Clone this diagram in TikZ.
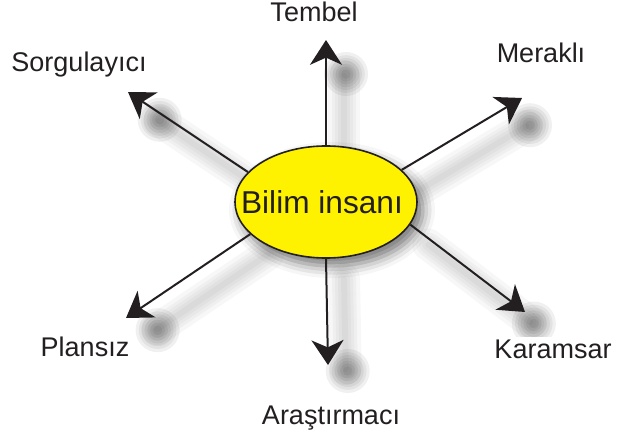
\documentclass[tikz,border=0pt]{standalone}
\usepackage{fontspec}
\setmainfont{Liberation Sans}
\usetikzlibrary{positioning}
\usetikzlibrary{calc}
\usetikzlibrary{arrows.meta}
\usetikzlibrary{shapes.geometric}
\usetikzlibrary{shadows.blur}

\pgfdeclarelayer{background}
\pgfsetlayers{background,main}

\definecolor{ink}{HTML}{231F20}
\definecolor{sunny}{HTML}{FFF200}

\tikzset{
  hub/.style={draw=ink, line width=0.04cm, fill=sunny, ellipse,
    minimum width=4.55cm, minimum height=2.8cm, inner sep=0pt,
    font=\fontsize{22.5}{26}\selectfont, text=ink,
    blur shadow={shadow xshift=0.15cm, shadow yshift=-0.2cm,
      shadow blur radius=0.3cm, shadow opacity=55}},
  trait/.style={font=\fontsize{19.2}{23}\selectfont, text=ink,
    fill=white, inner sep=2pt, anchor=base},
  link/.style={draw=ink, line width=0.05cm,
    -{Stealth[length=0.62cm, width=0.8cm, inset=0.18cm]}},
  ghost/.style={draw=black, line width=#1, opacity=0.03, line cap=round},
}

\begin{document}
\begin{tikzpicture}[x=0.025cm, y=-0.025cm]

\useasboundingbox (0,0) rectangle (624,439);

% centre
\node[hub] (bilim) at (326,202) {\makebox[0pt]{\hspace{-0.2cm}Bilim insanı}};

% arrow ends
\coordinate (tip-tembel) at (326,40);
\coordinate (tip-merak) at (522,98);
\coordinate (tip-karam) at (525,312);
\coordinate (tip-arast) at (328,365);
\coordinate (tip-plan) at (126,318);
\coordinate (tip-sorgu) at (128,92);

% soft shadows under the arrows
\begin{pgfonlayer}{background}
\foreach \ang/\who in {90/tembel, 23/merak, -15/karam, 270/arast, 203/plan, 159/sorgu} {
  \foreach \w in {0.8, 0.6, 0.45, 0.3, 0.15}
    \draw[ghost=\w cm] ($(bilim.\ang)+(18,20)$) -- ($(tip-\who)!0.4cm!(bilim.\ang)+(18,20)$);
  \foreach \r in {0.55, 0.47, 0.4, 0.33, 0.26, 0.19, 0.12}
    \fill[black, opacity=0.06] ($(tip-\who)!0.35cm!(bilim.\ang)+(20,20)$) circle (\r cm);
}
\end{pgfonlayer}

% labels
\node[trait] (tembel) at (314,22) {Tembel};
\node[trait] (merak) at (541,63) {Meraklı};
\node[trait] (sorgu) at (79,72) {Sorgulayıcı};
\node[trait] (plan) at (85,356) {Plansız};
\node[trait] (karam) at (553,358) {Karamsar};
\node[trait] (arast) at (331,424) {Araştırmacı};

% arrows
\foreach \ang/\who in {90/tembel, 23/merak, -15/karam, 270/arast, 203/plan, 159/sorgu}
  \draw[link] (bilim.\ang) -- (tip-\who);

\end{tikzpicture}
\end{document}
